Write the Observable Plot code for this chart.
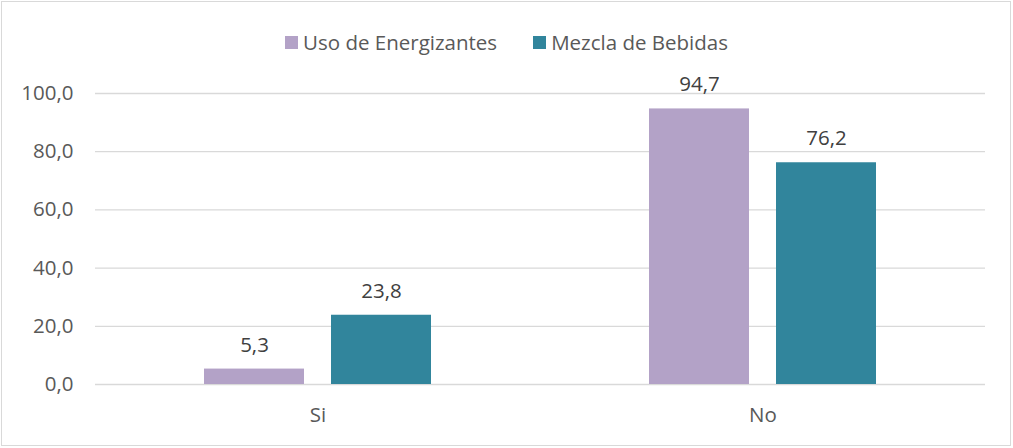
<!DOCTYPE html>
<html><head><meta charset="utf-8">
<script src="https://cdn.jsdelivr.net/npm/d3@7"></script>
<script src="https://cdn.jsdelivr.net/npm/@observablehq/plot@0.6"></script>
<style>
body{margin:0;background:#fff;font-family:"Open Sans",sans-serif;}
#frame{position:absolute;left:1px;top:1px;width:1010px;height:445px;border:1px solid #d9d9d9;box-sizing:border-box}
#legend{position:absolute;left:0;top:28px;width:1013px;display:flex;justify-content:center;gap:36px;font-size:20.5px;color:#595959;line-height:28px}
.item{display:flex;align-items:center}
.sw{width:13px;height:13px;margin-right:5px}
#chart{position:absolute;left:0;top:61px}
</style>
</head><body>
<div id="frame"></div>
<div id="legend"></div>
<div id="chart"></div>
<script>
const categories = ["Si", "No"];
const series = ["Uso de Energizantes", "Mezcla de Bebidas"];
const uso = [5.3, 94.7];
const mezcla = [23.8, 76.2];
const yTicks = [0, 20, 40, 60, 80, 100];
const colors = ["#B3A2C7", "#31859C"];

const data = categories.flatMap((c, i) => [
  {cat: c, serie: series[0], value: uso[i]},
  {cat: c, serie: series[1], value: mezcla[i]}
]);
const fmt = d => d.toFixed(1).replace(".", ",");

const legend = document.getElementById("legend");
series.forEach((s, i) => {
  const it = document.createElement("div");
  it.className = "item";
  it.innerHTML = `<span class="sw" style="background:${colors[i]}"></span><span>${s}</span>`;
  legend.appendChild(it);
});

const chart = Plot.plot({
  width: 1013, height: 385,
  marginTop: 32, marginBottom: 62, marginLeft: 95, marginRight: 28,
  style: {fontFamily: "Open Sans", fontSize: "20.5px", color: "#595959", background: "transparent"},
  fx: {domain: categories, padding: 0, label: null, tickSize: 0, tickPadding: 23},
  x: {domain: series, paddingInner: 0.2126, paddingOuter: 0.858, axis: null},
  y: {domain: [0, 100], ticks: yTicks, tickFormat: fmt, tickSize: 0, tickPadding: 22, label: null},
  color: {domain: series, range: colors},
  marks: [
    Plot.ruleY(yTicks, {stroke: "#d9d9d9", strokeWidth: 1.3}),
    Plot.barY(data, {fx: "cat", x: "serie", y: "value", fill: "serie"}),
    Plot.text(data, {fx: "cat", x: "serie", y: "value", text: d => fmt(d.value), dy: -24, fill: "#404040", fontSize: 20.5})
  ]
});
document.getElementById("chart").appendChild(chart);
</script>
</body></html>
